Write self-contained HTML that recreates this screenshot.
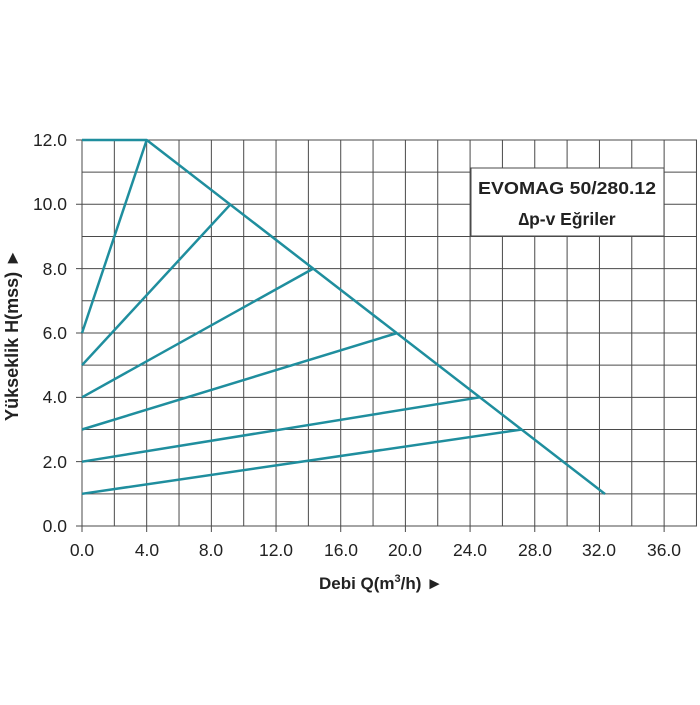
<!DOCTYPE html>
<html><head><style>body{margin:0;background:#fff}</style></head><body>
<svg width="700" height="700" viewBox="0 0 700 700" xmlns="http://www.w3.org/2000/svg" font-family="Liberation Sans, sans-serif">
<rect width="700" height="700" fill="#fff"/>
<g stroke="#4a4a4a" stroke-width="1">
<g id="v"></g>
</g>
<script>
var NS='http://www.w3.org/2000/svg';
function X(q){return 82+q*16.17}function Y(h){return 526-h*32.17}
var g=document.getElementById('v');
for(var i=0;i<=19;i++){var l=document.createElementNS(NS,'line');var x=X(i*2);l.setAttribute('x1',x);l.setAttribute('x2',x);l.setAttribute('y1',Y(12));l.setAttribute('y2',i%2==0?532:526);g.appendChild(l);}
for(var j=0;j<=12;j++){var l=document.createElementNS(NS,'line');var y=Y(j);l.setAttribute('x1',j%2==0?76:82);l.setAttribute('x2',697);l.setAttribute('y1',y);l.setAttribute('y2',y);g.appendChild(l);}
</script>
<rect x="471" y="168" width="193" height="68" fill="#fff" stroke="#4a4a4a" stroke-width="1"/>
<text x="567" y="194" font-size="17.5" font-weight="bold" text-anchor="middle" fill="#222" textLength="178" lengthAdjust="spacingAndGlyphs">EVOMAG 50/280.12</text>
<text x="567" y="225" font-size="17.5" font-weight="bold" text-anchor="middle" fill="#222">∆p-v Eğriler</text>
<g fill="none" stroke="#1f8e9e" stroke-width="2.5" stroke-linejoin="round">
<polyline points="82,140 146.7,140 605,494"/>
<line x1="82" y1="333" x2="146.7" y2="140"/>
<line x1="82" y1="365.2" x2="230.5" y2="204.3"/>
<line x1="82" y1="397.3" x2="313.2" y2="268.6"/>
<line x1="82" y1="429.5" x2="397.3" y2="333"/>
<line x1="82" y1="461.7" x2="479.8" y2="397.3"/>
<line x1="82" y1="493.8" x2="521.8" y2="429.5"/>
</g>
<g font-size="17.5" fill="#222" text-anchor="end">
<text x="67" y="146">12.0</text><text x="67" y="210">10.0</text><text x="67" y="275">8.0</text><text x="67" y="339">6.0</text><text x="67" y="403">4.0</text><text x="67" y="468">2.0</text><text x="67" y="532">0.0</text>
</g>
<g font-size="17.5" fill="#222" text-anchor="middle">
<text x="82" y="556">0.0</text><text x="147" y="556">4.0</text><text x="211" y="556">8.0</text><text x="276" y="556">12.0</text><text x="341" y="556">16.0</text><text x="405" y="556">20.0</text><text x="470" y="556">24.0</text><text x="535" y="556">28.0</text><text x="599" y="556">32.0</text><text x="664" y="556">36.0</text>
</g>
<text x="381" y="589" font-size="17" font-weight="bold" fill="#222" text-anchor="middle">Debi Q(m<tspan font-size="11" dy="-7">3</tspan><tspan dy="7">/h) ►</tspan></text>
<text transform="translate(18,335) rotate(-90)" font-size="18" font-weight="bold" fill="#222" text-anchor="middle">Yükseklik H(mss) ►</text>
</svg>
</body></html>
